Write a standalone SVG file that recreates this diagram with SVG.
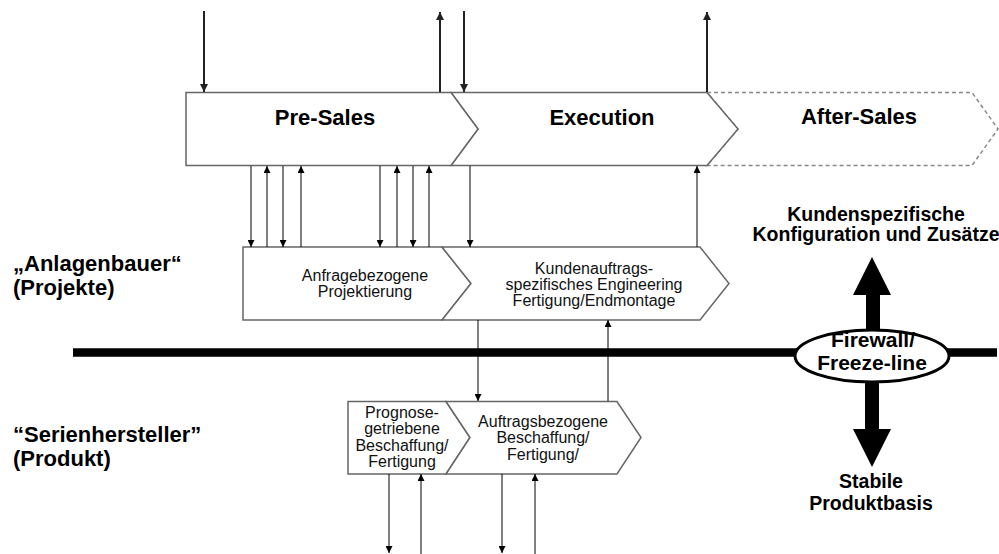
<svg xmlns="http://www.w3.org/2000/svg" width="999" height="554" viewBox="0 0 999 554">
<style>
.chev{fill:#fff;stroke:#666;stroke-width:1.5;stroke-linejoin:miter}
.dash{fill:#fff;stroke:#888;stroke-width:1.5;stroke-dasharray:4 3}
.ph{font-family:"Liberation Sans",Arial,sans-serif;font-weight:bold;font-size:22px;fill:#000;text-anchor:middle}
.fw{font-family:"Liberation Sans",Arial,sans-serif;font-weight:bold;font-size:21px;fill:#000;text-anchor:middle}
.nt{font-family:"Liberation Sans",Arial,sans-serif;font-size:16px;fill:#111;text-anchor:middle}
.lb{font-family:"Liberation Sans",Arial,sans-serif;font-weight:bold;font-size:22px;fill:#000}
.rb{font-family:"Liberation Sans",Arial,sans-serif;font-weight:bold;font-size:19.5px;fill:#000;text-anchor:middle}
.a1{stroke:#222;stroke-width:2;fill:none;marker-end:url(#h1)}
.a2{stroke:#000;stroke-width:1;fill:none;marker-end:url(#h2)}
</style>
<defs>
<marker id="h1" viewBox="0 0 10 10" refX="10" refY="5" markerWidth="9" markerHeight="8" markerUnits="userSpaceOnUse" orient="auto"><path d="M0,0 L10,5 L0,10 Z" fill="#222"/></marker>
<marker id="h2" viewBox="0 0 10 10" refX="10" refY="5" markerWidth="8" markerHeight="7" markerUnits="userSpaceOnUse" orient="auto"><path d="M0,0 L10,5 L0,10 Z" fill="#000"/></marker>
</defs>

<g id="after-sales">
<path class="dash" d="M707,92.5 H972 L998,129 L972,165.5 H707 L738,129 Z"/>
<text class="ph" x="859" y="124">After-Sales</text>
</g>
<g id="execution">
<path class="chev" d="M451,92.5 H707 L738,129 L707,165.5 H451 L478,129 Z"/>
<text class="ph" x="602" y="125">Execution</text>
</g>
<g id="pre-sales">
<path class="chev" d="M186,92.5 H451 L478,129 L451,165.5 H186 Z"/>
<text class="ph" x="325" y="125">Pre-Sales</text>
</g>

<g id="anfrage">
<path class="chev" d="M243,247 H442 L471,283.5 L442,320 H243 Z"/>
<text class="nt" x="365" y="281">Anfragebezogene</text>
<text class="nt" x="365" y="297">Projektierung</text>
</g>
<g id="kundenauftrag">
<path class="chev" d="M442,247 H700 L729,283.5 L700,320 H442 L471,283.5 Z"/>
<text class="nt" x="594" y="274">Kundenauftrags-</text>
<text class="nt" x="594" y="290">spezifisches Engineering</text>
<text class="nt" x="594" y="306">Fertigung/Endmontage</text>
</g>

<g id="prognose">
<path class="chev" d="M348,401.5 H446 L470,437.5 L446,474 H348 Z"/>
<text class="nt" x="402" y="418">Prognose-</text>
<text class="nt" x="402" y="434">getriebene</text>
<text class="nt" x="402" y="451">Beschaffung/</text>
<text class="nt" x="402" y="467">Fertigung</text>
</g>
<g id="auftrag">
<path class="chev" d="M446,401.5 H617 L641,437.5 L617,474 H446 L470,437.5 Z"/>
<text class="nt" x="543" y="427">Auftragsbezogene</text>
<text class="nt" x="543" y="443">Beschaffung/</text>
<text class="nt" x="543" y="460">Fertigung/</text>
</g>

<g id="labels">
<text class="lb" x="13" y="271">„Anlagenbauer“</text>
<text class="lb" x="13" y="295">(Projekte)</text>
<text class="lb" x="13" y="442">“Serienhersteller”</text>
<text class="lb" x="13" y="466">(Produkt)</text>
</g>

<g id="firewall">
<line x1="73" y1="352.5" x2="997" y2="352.5" stroke="#000" stroke-width="8.5"/>
<rect x="866" y="293" width="14" height="40" fill="#000"/>
<polygon points="853,295 891,295 872,257" fill="#000"/>
<rect x="865" y="378" width="14" height="53" fill="#000"/>
<polygon points="853,429 891,429 872,467" fill="#000"/>
<ellipse cx="872" cy="356" rx="77" ry="26" fill="#fff" stroke="#000" stroke-width="3"/>
<text class="fw" x="873" y="347">Firewall/</text>
<text class="fw" x="872" y="370">Freeze-line</text>
</g>
<g id="top-label">
<text class="rb" x="876" y="221">Kundenspezifische</text>
<text class="rb" x="876" y="241">Konfiguration und Zusätze</text>
</g>
<g id="bottom-label">
<text class="rb" x="871" y="488">Stabile</text>
<text class="rb" x="871" y="510">Produktbasis</text>
</g>

<g id="connectors">
<path class="a1" d="M204,11 V92"/>
<path class="a1" d="M440,92 V12"/>
<path class="a1" d="M464,11 V92"/>
<path class="a1" d="M707,92 V12"/>

<path class="a2" d="M251,166 V247"/>
<path class="a2" d="M267,247 V166"/>
<path class="a2" d="M283,166 V247"/>
<path class="a2" d="M301,247 V166"/>
<path class="a2" d="M380,166 V247"/>
<path class="a2" d="M397,247 V166"/>
<path class="a2" d="M413,166 V247"/>
<path class="a2" d="M429,247 V166"/>
<path class="a2" d="M470,166 V247"/>
<path class="a2" d="M697,247 V166"/>

<path class="a2" d="M478,320 V401"/>
<path class="a2" d="M608,401 V320"/>

<path class="a2" d="M389,474 V553"/>
<path class="a2" d="M421,554 V474"/>
<path class="a2" d="M502,474 V553"/>
<path class="a2" d="M535,554 V474"/>
</g>
</svg>
